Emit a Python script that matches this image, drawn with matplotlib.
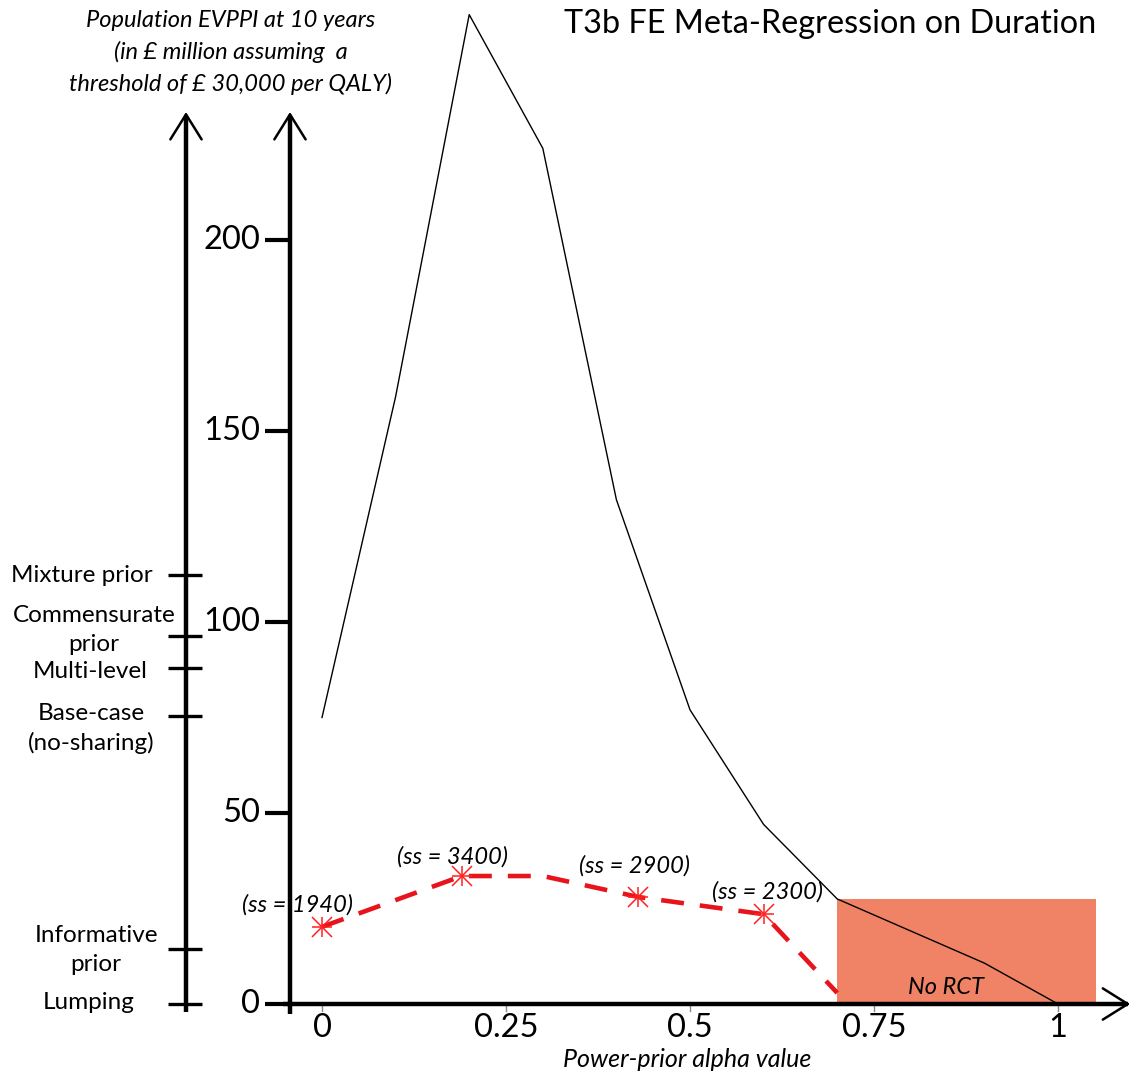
import matplotlib.pyplot as plt
from matplotlib.patches import Rectangle

plt.rcParams['font.family'] = ['Lato', 'DejaVu Sans']

# population EVPPI (black line) by power-prior alpha
alpha = [0.0, 0.1, 0.2, 0.3, 0.4, 0.5, 0.6, 0.7, 0.9, 1.0]
evppi = [75, 159, 259, 224, 132, 77, 47, 27.5, 10.7, 0]

# optimal trial sample size curve (red dashed)
ss_alpha = [0.0, 0.19, 0.30, 0.43, 0.60, 0.70]
ss_value = [20.2, 33.5, 33.5, 28.0, 23.5, 2.9]

# starred points with sample size labels
star_alpha = [0.0, 0.19, 0.43, 0.60]
star_value = [20.2, 33.5, 28.0, 23.5]
star_labels = ['(ss = 1940)', '(ss = 3400)', '(ss = 2900)', '(ss = 2300)']

# method scale on the outer axis
methods = ['Lumping', 'Informative\nprior', 'Base-case\n(no-sharing)',
           'Multi-level', 'Commensurate\nprior', 'Mixture prior']
method_pos = [0, 14.4, 75.4, 88, 96.3, 112.3]

yticks = [0, 50, 100, 150, 200]
xticks = [0, 0.25, 0.5, 0.75, 1]
xtick_labels = ['0', '0.25', '0.5', '0.75', '1']

# no-RCT region
no_rct_x = (0.70, 1.052)
no_rct_top = 27.5

fig = plt.figure(figsize=(11.32, 10.76), dpi=100)
ax = fig.add_axes([0, 0, 1, 1])
ax.axis('off')
ax.set_xlim(-0.4375, 1.1005)
ax.set_ylim(-18.85, 262.83)

ax.add_patch(Rectangle((no_rct_x[0], 0), no_rct_x[1] - no_rct_x[0], no_rct_top,
                       facecolor='#f08366', edgecolor='none', zorder=1))
ax.text(0.848, 4.2, 'No RCT', style='italic', fontsize=17, ha='center', va='center')

ax.plot(alpha, evppi, color='black', lw=1.0, zorder=3)
ax.plot(ss_alpha, ss_value, color='#e8141c', lw=3.3, dashes=(5, 3.5), zorder=3)
for m in ['+', 'x']:
    ax.plot(star_alpha, star_value, ls='none', marker=m, ms=15, mew=1.1,
            color='#ff2020', zorder=4)
label_xy = [(-0.033, 26.0), (0.177, 38.5), (0.425, 36.2), (0.605, 29.4)]
for (lx, ly), txt in zip(label_xy, star_labels):
    ax.text(lx, ly, txt, style='italic', fontsize=17, ha='center', va='center')

# axes drawn by hand with open arrowheads
arrow = dict(arrowstyle='->, head_length=0.4, head_width=0.25', lw=1.8,
             color='black', shrinkA=0, shrinkB=0, mutation_scale=45)
y_ax = -0.0435
ax.plot([y_ax, y_ax], [-2.6, 232.5], color='black', lw=3.2, solid_capstyle='butt', zorder=5)
ax.annotate('', xy=(y_ax, 233.5), xytext=(y_ax, 220), arrowprops=arrow)
ax.plot([-0.053, 1.095], [0, 0], color='black', lw=3.2, solid_capstyle='butt', zorder=5)
ax.annotate('', xy=(1.098, 0), xytext=(1.05, 0), arrowprops=arrow)
m_ax = -0.1848
ax.plot([m_ax, m_ax], [-2.1, 232.5], color='black', lw=3.2, solid_capstyle='butt', zorder=5)
ax.annotate('', xy=(m_ax, 233.5), xytext=(m_ax, 220), arrowprops=arrow)

for v in yticks:
    ax.plot([-0.0774, y_ax], [v, v], color='black', lw=3, solid_capstyle='butt')
    ax.text(-0.0842, v, str(v), fontsize=23.5, ha='right', va='center')

for v, lab in zip(xticks, xtick_labels):
    ax.plot([v, v], [-0.5, -1.8], color='#888888', lw=1)
    ax.text(v, -6.3, lab, fontsize=23.5, ha='center', va='center')

label_x = [-0.3165, -0.3070, -0.3140, -0.3150, -0.3100, -0.3260]
label_shift = [0.3, -0.2, -3.2, -1.0, 1.6, 0]
for name, pos, lx, dy in zip(methods, method_pos, label_x, label_shift):
    ax.plot([m_ax - 0.025, m_ax + 0.022], [pos, pos], color='black', lw=2.4,
            solid_capstyle='butt')
    ax.text(lx, pos + dy, name, fontsize=17.5, ha='center', va='center',
            linespacing=1.45)

ax.text(0.6905, 256.5, 'T3b FE Meta-Regression on Duration', fontsize=23.3,
        ha='center', va='center')
ax.text(-0.124, 249.2, 'Population EVPPI at 10 years\n(in £ million assuming  a\n'
        'threshold of £ 30,000 per QALY)', style='italic', fontsize=17,
        ha='center', va='center', linespacing=1.55)
ax.text(0.496, -14.4, 'Power-prior alpha value', style='italic', fontsize=18,
        ha='center', va='center')

fig.savefig('out.png', dpi=100)
